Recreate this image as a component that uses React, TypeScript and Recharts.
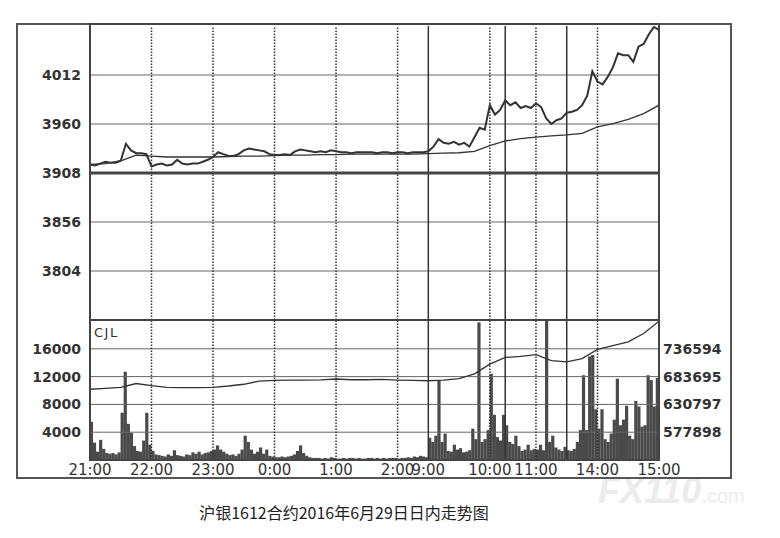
import React from "react";
import { ComposedChart, Line, Bar, XAxis, YAxis, ReferenceLine } from "recharts";

// minutes since 21:00, night session 21:00-2:30 then day session 9:00-15:00 (breaks removed)
const hourTicks = [0, 60, 120, 180, 240, 300, 330, 390, 435, 495, 555];
const hourLabels = ["21:00", "22:00", "23:00", "0:00", "1:00", "2:00", "9:00", "10:00", "11:00", "14:00", "15:00"];
const dottedLines = [60, 120, 180, 240, 300, 390, 435, 495];
const sessionBreaks = [330, 405, 465];

const priceTicks = [3804, 3856, 3908, 3960, 4012];
const pctLabels = ["-2.66%", "-1.33%", "0.00%", "+1.33%", "+2.66%"];
const volTicks = [4000, 8000, 12000, 16000];
const oiTicks = [577898, 630797, 683695, 736594];

// last price, every 5 minutes
const price = [
  3917, 3916, 3918, 3920, 3919, 3919, 3921, 3939, 3932, 3929,
  3929, 3928, 3915, 3917, 3918, 3916, 3917, 3922, 3918, 3917,
  3918, 3918, 3920, 3922, 3925, 3930, 3928, 3926, 3926, 3928,
  3932, 3934, 3933, 3932, 3931, 3928, 3927, 3927, 3928, 3927,
  3931, 3933, 3932, 3931, 3930, 3931, 3930, 3932, 3931, 3930,
  3930, 3929, 3930, 3930, 3930, 3930, 3929, 3930, 3930, 3929,
  3930, 3930, 3929, 3930, 3930, 3930, 3931, 3936, 3944, 3940,
  3939, 3941, 3938, 3940, 3936, 3946, 3956, 3954, 3980, 3970,
  3975, 3985, 3980, 3983, 3977, 3979, 3977, 3982, 3978, 3966,
  3960, 3964, 3966, 3972, 3973, 3975, 3980, 3990, 4016, 4005,
  4002, 4010, 4020, 4035, 4033, 4033, 4026, 4042, 4045, 4055,
  4063, 4060,
];

// average price, every 15 minutes
const avgPrice = [
  3917, 3918, 3921, 3927, 3926, 3925, 3925, 3925, 3925, 3925.5,
  3926, 3926, 3926.5, 3927, 3927, 3927.5, 3927.5, 3928, 3928, 3928,
  3928, 3928, 3928.5, 3929, 3929.5, 3931, 3937, 3942, 3944.5, 3946,
  3947.5, 3948.5, 3950, 3957, 3960.5, 3965, 3971, 3980,
];

// open interest, every 15 minutes
const openInterest = [
  659600, 661200, 663200, 670500, 666500, 663200, 662900, 662900, 663200, 665800,
  669100, 675100, 676400, 676800, 677100, 677300, 679100, 677700, 677700, 678400,
  677100, 676400, 675800, 677100, 679700, 689000, 707500, 720100, 722000, 725400,
  714100, 711900, 718100, 735300, 742700, 749800, 765700, 789000,
];

// volume per 3 minutes
const nightVolume = [
  5500, 2500, 1200, 2900, 1600, 1000, 900, 1000, 800, 1100,
  6800, 12700, 5200, 3900, 2000, 1300, 1200, 2800, 6800, 2200,
  1300, 800, 700, 600, 500, 800, 600, 1400, 700, 600,
  500, 800, 700, 1100, 900, 1200, 800, 1000, 1100, 1300,
  1500, 2100, 1500, 1200, 900, 700, 800, 600, 900, 1500,
  3500, 2600, 1500, 900, 1200, 1800, 900, 1500, 600, 500,
  400, 400, 500, 400, 500, 600, 800, 1300, 2100, 1000,
  600, 400, 300, 300, 300, 200, 300, 200, 400, 300,
  200, 200, 300, 200, 300, 300, 200, 300, 200, 200,
  300, 300, 200, 300, 200, 300, 200, 300, 300, 300,
  200, 300, 300, 400, 300, 500, 400, 600, 500, 400,
];
const dayVolume = [
  3200, 2600, 3500, 11400, 2600, 3800, 1300, 1200, 2200, 1500,
  1700, 1100, 1200, 1400, 4500, 3000, 19800, 2600, 3000, 4300,
  12400, 6500, 3300, 2800, 6500, 5000, 2600, 2300, 3500, 2000,
  1300, 1500, 2200, 1400, 1600, 1500, 2200, 1400, 20000, 2600,
  3500, 1800, 1500, 1300, 1900, 1400, 1300, 1600, 2600, 4300,
  12200, 4300, 14900, 15100, 7300, 4500, 7300, 3000, 2600, 3800,
  5800, 11700, 5000, 5800, 7800, 3500, 3000, 8500, 7700, 4800,
  5000, 12200, 11500, 7700, 11800,
];

const priceData = price.map((p, i) => ({ t: i * 5, price: p }));
const avgData = avgPrice.map((p, i) => ({ t: i * 15, avg: p }));
const oiData = openInterest.map((v, i) => ({ t: i * 15, oi: v }));
const volData = [...nightVolume, ...dayVolume].map((v, i) => ({ t: i * 3 + 1.5, vol: v }));

const FONT = "'DejaVu Sans', Verdana, sans-serif";
const INK = "#333";
const leftTick = { fill: INK, fontSize: 14, fontWeight: "bold", fontFamily: FONT };

const VolBar = (props: any) => {
  const { x, y, width, height } = props;
  if (!height || height <= 0) return null;
  const cx = x + width / 2;
  return <rect x={cx - 1.6} y={y} width={3.2} height={height} fill="#4a4a4a" />;
};

const verticalLines = (yId: string) => (
  <>
    {dottedLines.map((m) => (
      <ReferenceLine key={"d" + m} x={m} yAxisId={yId} stroke="#333" strokeWidth={1.5} strokeDasharray="1.5 1.5" />
    ))}
    {sessionBreaks.map((m) => (
      <ReferenceLine key={"s" + m} x={m} yAxisId={yId} stroke="#333" strokeWidth={1.5} />
    ))}
  </>
);

export default function App() {
  return (
    <div
      style={{
        position: "absolute",
        left: 0,
        top: 0,
        width: 780,
        height: 538,
        background: "#fff",
        overflow: "hidden",
        fontFamily: FONT,
      }}
    >
      {/* watermark */}
      <div style={{ position: "absolute", left: 598, top: 470, color: "#ececec", fontFamily: "'Liberation Sans', Arial, sans-serif", whiteSpace: "nowrap" }}>
        <span style={{ fontSize: 36, fontWeight: "bold", fontStyle: "italic" }}>FX110</span>
        <span style={{ fontSize: 20 }}>.com</span>
      </div>

      <div style={{ position: "absolute", left: 0, top: 0 }}>
        <ComposedChart width={780} height={330} data={priceData} margin={{ top: 26, right: 51, left: 20, bottom: 10 }}>
          <XAxis dataKey="t" type="number" domain={[0, 555]} hide allowDataOverflow />
          <YAxis
            yAxisId="left"
            domain={[3752, 4064]}
            ticks={priceTicks}
            width={70}
            axisLine={false}
            tickLine={false}
            tickSize={0}
            tickMargin={9}
            tick={leftTick}
            allowDataOverflow
          />
          <YAxis
            yAxisId="right"
            orientation="right"
            domain={[3752, 4064]}
            ticks={priceTicks}
            width={70}
            axisLine={false}
            tickLine={false}
            tickSize={0}
            tickMargin={8}
            tick={leftTick}
            tickFormatter={(v: number) => pctLabels[priceTicks.indexOf(v)]}
          />
          {priceTicks
            .filter((v) => v !== 3908)
            .map((v) => (
              <ReferenceLine key={v} y={v} yAxisId="left" stroke="#666" strokeWidth={1} />
            ))}
          {verticalLines("left")}
          <ReferenceLine y={3908} yAxisId="left" stroke="#444" strokeWidth={3} />
          <Line
            yAxisId="left"
            data={avgData}
            dataKey="avg"
            type="linear"
            stroke="#333"
            strokeWidth={1.3}
            dot={false}
            isAnimationActive={false}
          />
          <Line
            yAxisId="left"
            dataKey="price"
            type="linear"
            stroke="#333"
            strokeWidth={2}
            dot={false}
            isAnimationActive={false}
          />
        </ComposedChart>
      </div>

      <div style={{ position: "absolute", left: 0, top: 300 }}>
        <ComposedChart width={780} height={190} data={volData} margin={{ top: 21, right: 51, left: 20, bottom: 6 }}>
          <XAxis
            dataKey="t"
            type="number"
            domain={[0, 555]}
            ticks={hourTicks}
            interval={0}
            height={24}
            axisLine={false}
            tickLine={false}
            tickSize={0}
            tickMargin={4}
            tick={{ fill: INK, fontSize: 15, fontFamily: FONT }}
            tickFormatter={(v: number) => hourLabels[hourTicks.indexOf(v)]}
            allowDataOverflow
          />
          <YAxis
            yAxisId="left"
            domain={[0, 20000]}
            ticks={volTicks}
            width={70}
            axisLine={false}
            tickLine={false}
            tickSize={0}
            tickMargin={9}
            tick={leftTick}
            allowDataOverflow
          />
          <YAxis
            yAxisId="right"
            orientation="right"
            domain={[524999, 789493]}
            ticks={oiTicks}
            width={70}
            axisLine={false}
            tickLine={false}
            tickSize={0}
            tickMargin={4}
            tick={leftTick}
            allowDataOverflow
          />
          {volTicks.map((v) => (
            <ReferenceLine key={v} y={v} yAxisId="left" stroke="#666" strokeWidth={1} />
          ))}
          <Bar yAxisId="left" dataKey="vol" fill="#4a4a4a" shape={VolBar} isAnimationActive={false} />
          {verticalLines("left")}
          <Line
            yAxisId="right"
            data={oiData}
            dataKey="oi"
            type="linear"
            stroke="#333"
            strokeWidth={1.3}
            dot={false}
            isAnimationActive={false}
          />
        </ComposedChart>
      </div>

      {/* frame and panel borders */}
      <div style={{ position: "absolute", left: 16, top: 23, width: 716, height: 456, border: "2px solid #555", boxSizing: "border-box", pointerEvents: "none" }} />
      <div style={{ position: "absolute", left: 89, top: 23, width: 571, height: 438, border: "2px solid #444", boxSizing: "border-box", pointerEvents: "none" }} />
      <div style={{ position: "absolute", left: 89, top: 319, width: 571, height: 2, background: "#444" }} />

      <div style={{ position: "absolute", left: 94, top: 325, fontSize: 13, color: INK, letterSpacing: 1.5, fontFamily: FONT }}>CJL</div>

      <div
        style={{
          position: "absolute",
          left: 0,
          width: 688,
          top: 500,
          textAlign: "center",
          fontSize: 16,
          color: "#222",
          fontFamily: "'Noto Sans CJK SC', sans-serif",
        }}
      >
        沪银1612合约2016年6月29日日内走势图
      </div>
    </div>
  );
}
